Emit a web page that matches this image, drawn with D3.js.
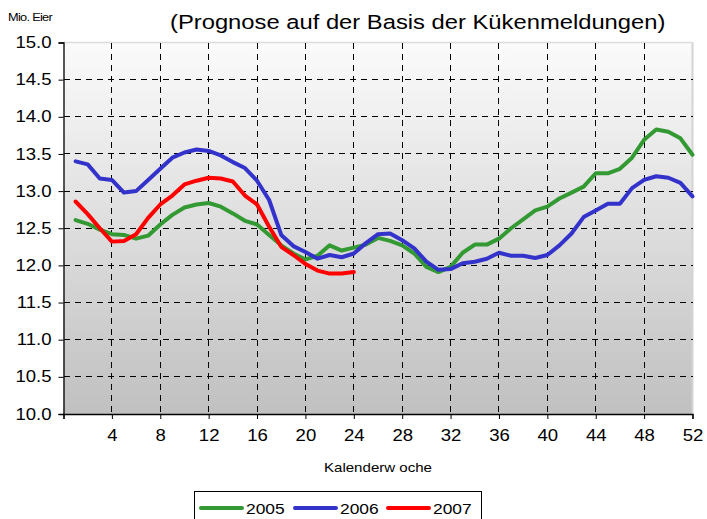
<!DOCTYPE html>
<html><head><meta charset="utf-8">
<script src="https://cdn.jsdelivr.net/npm/d3@7/dist/d3.min.js"></script>
<style>body{margin:0;background:#fff;}svg{display:block;font-family:Arial,"Liberation Sans",sans-serif;}</style>
</head><body>
<svg id="c" width="707" height="519"></svg>
<script>
const weeks = d3.range(1, 53);
const s2005 = [12.61,12.56,12.48,12.42,12.41,12.36,12.40,12.55,12.68,12.78,12.82,12.84,12.79,12.70,12.60,12.55,12.41,12.27,12.16,12.08,12.13,12.27,12.20,12.24,12.28,12.37,12.33,12.27,12.16,11.98,11.91,11.98,12.17,12.28,12.28,12.36,12.50,12.62,12.74,12.79,12.90,12.98,13.06,13.24,13.24,13.30,13.45,13.69,13.83,13.80,13.71,13.49];
const s2006 = [13.40,13.36,13.17,13.15,12.98,13.00,13.15,13.30,13.45,13.52,13.56,13.54,13.48,13.39,13.31,13.14,12.88,12.41,12.26,12.18,12.09,12.14,12.11,12.16,12.30,12.42,12.43,12.34,12.23,12.05,11.94,11.95,12.03,12.05,12.09,12.17,12.13,12.13,12.10,12.14,12.27,12.43,12.65,12.74,12.83,12.83,13.04,13.15,13.20,13.18,13.11,12.93];
const s2007 = [12.86,12.69,12.50,12.32,12.33,12.42,12.64,12.82,12.94,13.09,13.14,13.18,13.17,13.13,12.94,12.82,12.52,12.25,12.14,12.02,11.93,11.89,11.89,11.91];
const seriesNames = ["2005","2006","2007"];
const seriesColors = ["#339933","#3333cc","#ff0000"];
const xTicks = d3.range(4, 53, 4);
const yTicks = d3.range(10, 15.01, 0.5);
const title = "(Prognose auf der Basis der Kükenmeldungen)";
const yLabel = "Mio. Eier";
const xLabel = "Kalenderw oche";

const STRETCH = 1.16;
function stretch(sel){
  sel.each(function(){
    const ax = +(this.getAttribute("x") || 0);
    d3.select(this).attr("transform", `translate(${ax},0) scale(${STRETCH},1) translate(${-ax},0)`);
  });
}

const svg = d3.select("#c");
const L = 63.5, R = 692.5, T = 42.5, B = 414;
const x = d3.scaleLinear().domain([0, 52]).range([L, R]);
const y = d3.scaleLinear().domain([10, 15]).range([B, T]);

const defs = svg.append("defs");
const g = defs.append("linearGradient").attr("id","bg").attr("x1",0).attr("y1",0).attr("x2",0).attr("y2",1);
g.append("stop").attr("offset","0%").attr("stop-color","#fbfbfb");
g.append("stop").attr("offset","100%").attr("stop-color","#c0c0c0");

svg.append("rect").attr("x",L).attr("y",T).attr("width",R-L).attr("height",B-T).attr("fill","url(#bg)");
svg.append("line").attr("x1",L).attr("x2",R).attr("y1",T).attr("y2",T).attr("stroke","#dcdcdc").attr("stroke-width",1.5);
svg.append("line").attr("x1",R).attr("x2",R).attr("y1",T).attr("y2",B).attr("stroke","#d4d4d4").attr("stroke-width",2);

// gridlines
svg.append("g").selectAll("line").data(yTicks.filter(v => v > 10.01 && v < 14.99)).join("line")
  .attr("x1",L).attr("x2",R).attr("y1",d=>y(d)).attr("y2",d=>y(d))
  .attr("stroke","#000").attr("stroke-width",1).attr("stroke-dasharray","6,5").attr("shape-rendering","crispEdges");
svg.append("g").selectAll("line").data(xTicks.filter(v => v < 52)).join("line")
  .attr("x1",d=>x(d)).attr("x2",d=>x(d)).attr("y1",T).attr("y2",B)
  .attr("stroke","#000").attr("stroke-width",1).attr("stroke-dasharray","6,5").attr("shape-rendering","crispEdges");

// axes
const yAxis = d3.axisLeft(y).tickValues(yTicks).tickFormat(d3.format(".1f")).tickSize(5).tickPadding(7);
const ya = svg.append("g").attr("transform",`translate(${L},0)`).call(yAxis);
ya.select(".domain").attr("stroke","#000").attr("stroke-width",1.3);
ya.selectAll("text").attr("font-size",16).attr("fill","#000").attr("font-family","Arial,'Liberation Sans',sans-serif").call(stretch);

const xAxis = d3.axisBottom(x).tickValues([0].concat(xTicks)).tickFormat(d => d === 0 ? "" : d).tickSize(5).tickPadding(11);
const xa = svg.append("g").attr("transform",`translate(0,${B})`).call(xAxis);
xa.select(".domain").attr("stroke","#000").attr("stroke-width",1.3);
xa.selectAll("text").attr("font-size",16).attr("fill","#000").attr("font-family","Arial,'Liberation Sans',sans-serif").call(stretch);

// lines
const data = [s2005, s2006, s2007];
const line = d3.line().x((d,i)=>x(weeks[i])).y(d=>y(d));
data.forEach((s,k)=>{
  svg.append("path").datum(s).attr("d",line).attr("fill","none")
    .attr("stroke",seriesColors[k]).attr("stroke-width",4).attr("stroke-linejoin","round").attr("stroke-linecap","round");
});

// texts
svg.append("text").attr("x",170).attr("y",29).attr("font-size",20.5).attr("fill","#000").text(title).call(stretch);
svg.append("text").attr("x",8).attr("y",21).attr("font-size",11).attr("fill","#000").attr("letter-spacing",-0.6).text(yLabel).call(stretch);
svg.append("text").attr("x",378).attr("y",472).attr("text-anchor","middle").attr("font-size",13).attr("fill","#000").text(xLabel).call(stretch);

// legend
const lg = svg.append("g");
lg.append("rect").attr("x",194.5).attr("y",491.5).attr("width",287).attr("height",40).attr("fill","#fff").attr("stroke","#000").attr("stroke-width",1);
const lx = [200, 294, 387];
seriesNames.forEach((n,k)=>{
  lg.append("line").attr("x1",lx[k]+1).attr("x2",lx[k]+42).attr("y1",508).attr("y2",508)
    .attr("stroke",seriesColors[k]).attr("stroke-width",4).attr("stroke-linecap","round");
  lg.append("text").attr("x",lx[k]+46).attr("y",514).attr("font-size",15).attr("fill","#000").text(n).call(stretch);
});
</script>
</body></html>
